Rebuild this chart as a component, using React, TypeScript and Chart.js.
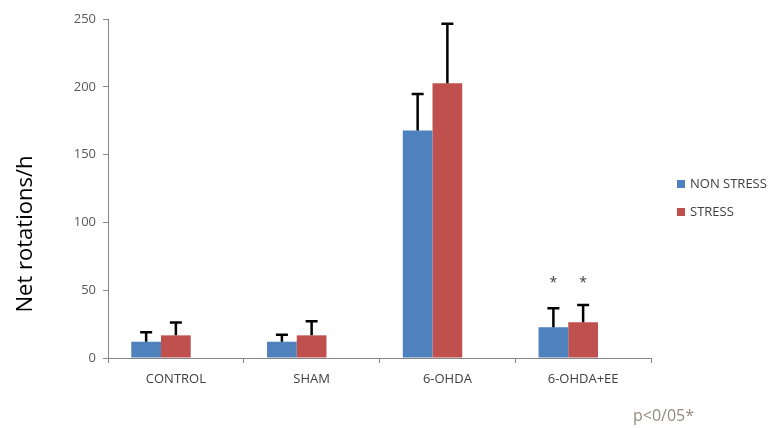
import React, { useEffect, useRef } from "react";
import { Chart, registerables } from "chart.js";

Chart.register(...registerables);

const categories = ["CONTROL", "SHAM", "6-OHDA", "6-OHDA+EE"];
const nonStress = [12, 12, 167.7, 22.7];
const stress = [16.7, 16.7, 202.7, 26.4];
const emptySeries = [null, null, null, null];
const nonStressErr = [7, 5.2, 27, 14];
const stressErr = [9.4, 10.4, 43.8, 12.7];
const significant = [false, false, false, true];
const seriesNames = ["NON STRESS", "STRESS"];
const seriesColors = ["#4f81bd", "#c0504d"];
const yTicks = [0, 50, 100, 150, 200, 250];
const yTitle = "Net rotations/h";
const footnote = "p<0/05*";

const FONT = "'Open Sans', 'DejaVu Sans', sans-serif";

export default function App() {
  const ref = useRef<HTMLCanvasElement>(null);

  useEffect(() => {
    const errors = [nonStressErr, stressErr];
    const extras = {
      id: "extras",
      afterDatasetsDraw(chart: any) {
        const ctx = chart.ctx;
        const y = chart.scales.y;
        ctx.save();
        [0, 1].forEach((di) => {
          const ds = chart.data.datasets[di];
          const meta = chart.getDatasetMeta(di);
          meta.data.forEach((bar: any, i: number) => {
            const v = ds.data[i];
            const top = y.getPixelForValue(v);
            const et = y.getPixelForValue(v + errors[di][i]);
            ctx.strokeStyle = "#000";
            ctx.lineWidth = 2.5;
            ctx.beginPath();
            ctx.moveTo(bar.x, top);
            ctx.lineTo(bar.x, et);
            ctx.moveTo(bar.x - 6, et);
            ctx.lineTo(bar.x + 6, et);
            ctx.stroke();
            if (significant[i]) {
              ctx.fillStyle = "#404040";
              ctx.font = `14px ${FONT}`;
              ctx.textAlign = "center";
              ctx.textBaseline = "middle";
              ctx.fillText("*", bar.x, y.getPixelForValue(55.5));
            }
          });
        });
        // legend
        const ca = chart.chartArea;
        ctx.font = `13px ${FONT}`;
        ctx.textAlign = "left";
        ctx.textBaseline = "middle";
        seriesNames.forEach((n, k) => {
          const cy = 184 + k * 28;
          ctx.fillStyle = seriesColors[k];
          ctx.fillRect(ca.right + 26, cy - 4, 8, 8);
          ctx.fillStyle = "#404040";
          ctx.fillText(n, ca.right + 39, cy);
        });
        // y title
        ctx.save();
        ctx.translate(26, 234);
        ctx.rotate(-Math.PI / 2);
        ctx.font = `22px ${FONT}`;
        ctx.fillStyle = "#000";
        ctx.textAlign = "center";
        ctx.textBaseline = "middle";
        ctx.fillText(yTitle, 0, 0);
        ctx.restore();
        // footnote
        ctx.font = `16px ${FONT}`;
        ctx.fillStyle = "#948a80";
        ctx.textAlign = "left";
        ctx.textBaseline = "middle";
        ctx.fillText(footnote, 633, 416);
        ctx.restore();
      },
    };

    const chart = new Chart(ref.current!, {
      type: "bar",
      data: {
        labels: categories,
        datasets: [
          { label: seriesNames[0], data: nonStress, backgroundColor: seriesColors[0], borderWidth: 0 },
          { label: seriesNames[1], data: stress, backgroundColor: seriesColors[1], borderWidth: 0 },
          { label: "", data: emptySeries as any, backgroundColor: "rgba(0,0,0,0)", borderWidth: 0 },
        ],
      },
      options: {
        animation: false,
        responsive: false,
        layout: { padding: { top: 19, right: 122, bottom: 0, left: 0 } },
        plugins: { legend: { display: false }, tooltip: { enabled: false } },
        datasets: { bar: { categoryPercentage: 0.657, barPercentage: 1 } },
        scales: {
          x: {
            afterFit: (s: any) => { s.height = 70; },
            border: { color: "#868686", width: 1 },
            grid: { display: true, drawOnChartArea: false, offset: true, tickLength: 5, color: "#868686" },
            ticks: { color: "#404040", font: { family: FONT, size: 13 }, padding: 8 },
          },
          y: {
            min: 0,
            max: 250,
            afterFit: (s: any) => { s.width = 108; },
            afterBuildTicks: (s: any) => { s.ticks = yTicks.map((v) => ({ value: v })); },
            border: { color: "#868686", width: 1 },
            grid: { display: true, drawOnChartArea: false, tickLength: 5, color: "#868686" },
            ticks: { color: "#595959", font: { family: FONT, size: 13 }, padding: 7 },
          },
        },
      },
      plugins: [extras],
    });
    return () => chart.destroy();
  }, []);

  return (
    <div style={{ position: "fixed", left: 0, top: 0, width: 773, height: 428, background: "#fff" }}>
      <canvas ref={ref} width={773} height={428} style={{ width: 773, height: 428 }} />
    </div>
  );
}
